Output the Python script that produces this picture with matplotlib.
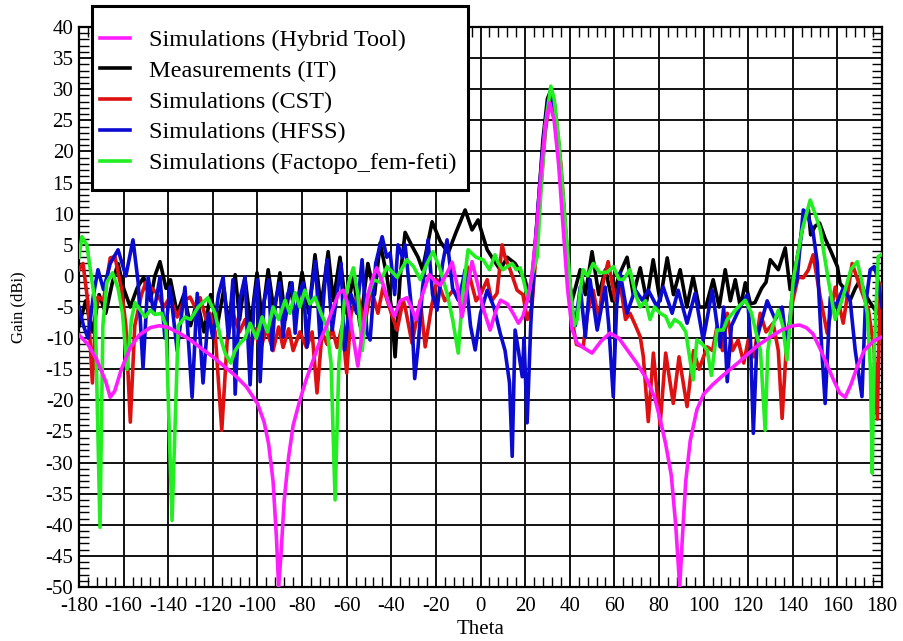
"""Radiation pattern comparison: gain versus theta for five data sources."""

import matplotlib

matplotlib.use("Agg")
import matplotlib.pyplot as plt
from matplotlib.patches import Rectangle
from matplotlib.ticker import MultipleLocator

plt.rcParams["font.family"] = ["Liberation Serif", "DejaVu Serif"]
plt.rcParams["axes.unicode_minus"] = False

# --- Simulations (Hybrid Tool) ---
hybrid_theta = [
    -180, -176, -172, -168, -166, -164, -161, -157, -153, -148, -144, -140,
    -135, -130, -125, -120, -115, -110, -105, -100, -97, -95, -93, -91.5,
    -90.5, -89.5, -88, -86, -84, -81, -78, -75, -72, -69, -66, -63.5, -61.5,
    -59.5, -57, -55, -53, -50.5, -48, -46.5, -44, -41, -38.5, -36, -33, -31,
    -29, -26.5, -23, -20, -18, -15, -12.7, -10.5, -8.3, -6, -3.8, -1.5, 1,
    4.3, 7, 9, 12, 14.6, 17, 19, 21, 23, 25, 27, 29, 31, 33, 35, 37, 39, 41,
    43.3, 46, 50, 54, 58, 62, 66, 70, 74.7, 78, 80.5, 83, 85.5, 87.5, 89.3,
    90.5, 92, 94, 97, 100, 104, 108, 112, 116, 120, 125, 130, 135, 140, 143,
    146, 149, 152, 155, 158, 161, 163.5, 166, 169, 172, 176, 180,
]
hybrid_gain = [
    -9.5, -11, -13.5, -17, -19.5, -18.5, -15, -11.5, -9.5, -8.3, -8, -8.3,
    -9.2, -10.3, -11.7, -13, -14.5, -16, -17.8, -20.5, -23.5, -27, -33, -42,
    -50, -45, -36, -29, -24, -20, -16.5, -13.5, -10.5, -8, -5, -2.8, -2.3,
    -4.5, -10, -14.5, -9, -3, 0, 1.3, -1, -4.5, -6.5, -4, -3.5, -5,
    -7, -3.5, 0.2, -1, -1.5, 0.5, 2.2, -1.5, -6.6, -2, 2.3, -1, -5,
    -8.7, -5.5, -3.9, -4.5, -6, -7.6, -6.5, -3.9, 0, 7, 16, 24, 27.8, 25, 18,
    8, -2, -8.5, -10.8, -11.5, -12.4, -10.5, -9.2, -10, -12, -14, -16.7,
    -19.5, -23, -27, -32, -40, -50, -42, -33, -26.5, -21.5, -19, -17.5,
    -16.2, -15, -13.8, -12.5, -11, -9.8, -8.7, -8, -7.9, -8.3, -9.3, -11.5,
    -14, -16.5, -18.8, -19.5, -17.5, -14.5, -12, -10.5, -9.8,
]

# --- Measurements (IT) ---
meas_theta = [
    -180, -177, -174, -171, -168, -165, -162.5, -160, -157, -154, -151, -148,
    -146, -143.7, -141, -139, -136, -133, -130, -127, -124, -121, -118, -115,
    -113, -110, -108, -105.6, -103, -100.2, -98, -95.2, -92.5, -89.9, -87.5,
    -85.4, -83, -80, -77, -74.2, -71.5, -68.3, -66, -63, -60, -57, -54, -50.5,
    -47.5, -45, -42, -40, -38.3, -36, -33.8, -31, -28, -26, -21.7, -18, -14.5,
    -11, -6.9, -3.8, -1.1, 1, 3, 6, 8.8, 12, 15.5, 18, 20, 22, 24, 26, 28, 30,
    31.5, 33, 35, 37, 39, 41, 42.5, 44.7, 47, 50, 53, 56, 59, 62, 65.7, 68.5,
    71.6, 74.5, 77.4, 80.5, 83.7, 86.5, 89.5, 92.5, 95.3, 98, 101, 104.3, 107,
    109.7, 112, 114.2, 116.5, 118.7, 121, 123, 126, 128, 129.9, 133.5, 136.6,
    138.8, 141, 143, 145, 147, 148, 150, 152, 154.5, 156.8, 160, 161.2, 163,
    165.7, 168, 170.2, 172.5, 174.7, 177.9, 180,
]
meas_gain = [
    -8, -4, -9, -3, -6, -1, 2, -2, -5, -2, -0.2, -4,
    0, 2.3, -2, -0.6, -6, -3, -8, -4, -9, -3, -8, -2,
    -8, 0.2, -7, -0.3, -8, 0.5, -7, 1, -6, 0.5, -7,
    -1.1, -7, 0.6, -6, 3.4, -5, 3.9, -4, 3, -6, 0, -8, 2,
    -3, 5.3, 0, -5, -13, 0, 7, 5, 3, 1, 8.7, 5.5, 3.7,
    7, 10.6, 7.4, 9, 6.5, 4.2, 2.5, 1, 3, 2, 0.5, -0.6, -4, 3, 12, 22, 28.5,
    29.8, 28, 21, 12, 2, -4, -2, 1, -3, 3.9, -3, 1, -4, 0, 3, -3,
    1.3, -4, 2.6, -4, 2.9, -3, 1, -5, -0.1, -5, -5, -0.6, -5,
    1, -4, -0.6, -5, -1.1, -4.5, -4.3, -2, -1, 2.6, 1, 4.5,
    -2.2, 1, 5, 9, 10.6, 6.6, 8, 8.5, 6, 4.2, 1.5, -1.2, -2,
    -3.9, -2, -0.6, -3, -4.3, -6, -3,
]

# --- Simulations (CST) ---
cst_theta = [
    -180, -178.2, -176, -174, -172.5, -171.5, -169, -166, -163.9, -161, -159,
    -157, -155, -152, -150, -148, -145, -142, -139.2, -136, -133, -130.2, -128,
    -125.7, -123, -121.3, -119, -116, -113.5, -111, -108, -105.5, -103, -101,
    -98.8, -96, -93, -90.5, -88.5, -86, -84, -81, -78, -75.5, -73.3, -71,
    -68.8, -66.5, -64.3, -62, -60, -58, -55, -52, -49, -46, -43.7, -40, -37.4,
    -34.7, -33.8, -30.7, -27, -24.8, -22, -19.5, -16, -12.3, -9, -6, -2, 0, 3,
    5, 7.4, 9.7, 11, 13.3, 16.4, 19, 21, 23, 25, 27, 29, 31, 32, 34, 36, 38,
    40, 41.5, 43, 46, 48, 50.5, 53, 55, 57.2, 60.4, 62.6, 65, 67, 69.5, 71.6,
    73, 75.2, 77.5, 80.5, 83, 86.4, 89, 92.6, 95.5, 98, 101.6, 104, 106, 108.5,
    110.6, 113, 115.5, 118, 120, 122.5, 125.4, 128, 131.2, 133.5, 135.2, 137,
    138, 140, 142.4, 144.7, 147, 149.1, 152.3, 155.4, 159, 162.6, 166.6, 170.2,
    173.9, 176.5, 177.9, 179.2, 180,
]
cst_gain = [
    1, 2, -4.3, -17.2, -6, -3.4, -3.9, 2.9, 3.1, -2, -8,
    -23.5, -8, -3, -1, -1.8, -2.8, -5, -3.4, -6.6, -4, -3.4, -5,
    -3.5, -7, -6, -9, -24.8, -10, -6, -9, -7, -11.5, -8.5,
    -12, -8.5, -12, -8.2, -11.5, -8.5, -12, -9, -11.5, -9, -18.8, -9,
    -11, -8.5, -11.5, -8, -15.6, -6, -3, -8, -2, -6, -1.8, -6, -8.7,
    -3.9, -5, -10.8, -3.9, -11.4, -5, -0.6, -4, -2.3, -4, 1.5, -4, -3, -0.6,
    -4, -2.8, 5, 3, 1, -2.3, -3, -7, -5, 4, 14, 23, 28.5, 29, 25, 18, 8,
    -1, -8, -11, -11.4, -6, -2.3, -7, -1, 2.3, -3.9, -1.2, -7, -6, -8, -9.8,
    -13, -23.4, -12.4, -24, -12.4, -20.5, -13, -21, -12, -15, -11.4, -12, -8.2, -12,
    -6, -12, -10.3, -14, -10.3, -13, -6, -9, -7.6, -12, -22.9, -12,
    -8.7, -4, -0.2, -0.3, 1, 3.4, -3.4, -9.2, -1.8, -7.6, 2, -1.8,
    -5.5, -12, -23, -1.2, -4,
]

# --- Simulations (HFSS) ---
hfss_theta = [
    -180, -178, -176, -173.5, -171.5, -169, -166, -162.5, -159, -155.8, -153.5,
    -151.3, -149, -146.5, -143.7, -141.5, -139.2, -136, -132.5, -129.3, -127,
    -124.4, -122, -120, -117.5, -115.4, -113, -111, -110, -108, -105.6, -103.3,
    -101.5, -100, -98.8, -97, -95, -93.5, -92, -90, -88.5, -86.5, -84.5, -83.1,
    -81.5, -79.5, -77.8, -76, -74, -71.9, -70, -68.8, -66.5, -64, -62.5, -61,
    -58, -55.5, -53.1, -50.9, -49.5, -47, -44.1, -42, -40.5, -38.5, -37, -35,
    -33.8, -31, -29.5, -28, -26, -23.5, -21.5, -19.5, -17, -15, -12.5, -10, -8,
    -6.9, -4.5, -2.4, 0, 3, 6, 8.8, 11, 13, 14.2, 15.5, 17, 18.7, 19.5, 20.9,
    22.5, 24, 26, 28, 30, 31.5, 33, 35, 37, 39, 41, 42.5, 44.7, 47, 49.1, 52.3,
    55.9, 57.5, 59.5, 61, 62.6, 65.7, 69.3, 72.5, 75.2, 79.2, 81.9, 85.9, 88.6,
    92.6, 96.2, 99.8, 103.9, 107.4, 109, 110.6, 112.5, 116.4, 119.6, 121, 122.3,
    124, 125.4, 128.5, 132.1, 135.2, 137.5, 139.7, 141.9, 143.3, 144.7, 146.4,
    149.1, 151, 153, 154.5, 156.8, 159, 162.6, 165.7, 168, 171, 172.5, 174.7,
    176.5, 177.9, 180,
]
hfss_gain = [
    -5, -8, -10, -3, 1, -2.2, 2, 4.2, 0, 5.8, -1,
    -14.8, -0.2, -6, -0.2, -10, -1.8, -12, -1.8, -19.5, -2.8,
    -17.2, -6, -10, -3, -0.2, -10, -0.6, -19, -4, -0.2, -17.5,
    -4, -0.6, -17, -4, -0.6, -11.9, -4, -1.1, -9.8, -3, -1.1, -9.2,
    -3, -1.1, -11.4, -3, 2.3, -10.8, -2, 2.6, -8.7, -2, 2, -11.9,
    -3, -6, 2.6, -9.2, -10.3, 2, 6.3, 3, 3.7, -3, 5, 3,
    5, -5, -16.5, -11.4, -2, 5.8, -3, -5.5, 2, 5.8, -2, -3.9, -1,
    1, -8, -11.9, -6, -2.3, -5, -9.2, -12, -17.2, -29, -8.7, -12, -16.2, -10, -23.6,
    -8, 2, 12, 21, 27.5, 29.5, 27, 21, 12, 3, -5, -8, -1.8, -9.8, -0.6, -8.7,
    -1.8, -8, -19.4, -5, 0.5, -6, -2.2, -3.9, -2.3, -5, -1.8, -6, -2.3,
    -7.6, -2.8, -10.3, -2.3, -11.4, -5, -17, -8, -5, -3, -10, -25.3,
    -10, -8, -4, -7, -5, -12, -3, -0.6, 5, 10.6, 10,
    7, 2, -12, -20.5, -3.4, -5, -2, -3.9, -12, -19.4, -5, 1,
    1.5, -0.2, -5,
]

# --- Simulations (Factopo_fem-feti) ---
feti_theta = [
    -180, -178.7, -176.5, -174.5, -172.8, -170.6, -169.3, -167.5, -165, -162.5,
    -160.5, -158.5, -156.5, -154.9, -152.5, -150.4, -148, -145.9, -143, -141,
    -138.3, -135.5, -132.5, -130, -126.6, -122.2, -119, -116.5, -114.5, -112,
    -110, -107.8, -105.5, -103.3, -100.5, -97.9, -95.5, -93, -90.5, -87.6,
    -85.5, -83.1, -81, -78.7, -76.5, -74.2, -71.5, -69, -67, -65.2, -63.5, -61,
    -59, -57, -55, -53, -51, -48, -45, -41.9, -37.4, -33, -30, -27, -24, -21.3,
    -18, -15, -12.5, -10, -8, -5.6, -2, 1.2, 4, 6.5, 8, 10.1, 12, 14.2, 16,
    17.8, 19.5, 21.3, 23, 25.4, 27, 29, 31.5, 33, 35, 37, 39, 40.5, 42, 43.3,
    44.5, 46, 48, 50.5, 53.5, 56.8, 59.6, 62, 64, 67, 69.5, 71.6, 74, 76, 78,
    80.5, 83, 85, 87, 89.5, 92, 95.3, 97, 99.5, 101.6, 103.5, 106, 108.8, 110.6,
    113, 115.5, 118.7, 121.5, 124, 125.5, 127.6, 128.8, 129.9, 133.5, 135.5,
    137.4, 140.2, 144.2, 147.8, 150, 152.3, 155.9, 159, 161, 163.5, 166, 168.9,
    171, 173.4, 174.8, 175.6, 176.5, 178.3, 180,
]
feti_gain = [
    3, 6.3, 5, 0, -4.3, -40.4, -8, -1, 0.5, -2,
    -6, -15, -7, -4.3, -5.5, -6.6, -5.5, -6.2, -6, -8,
    -39.3, -8, -6.6, -7, -5, -3.5, -6, -10, -12.4, -14,
    -12, -10.8, -10, -7.6, -10, -6.6, -9, -5, -7, -3.9,
    -6, -2.7, -5, -2.3, -4.5, -3.4, -6, -8, -14, -36, -14, -4,
    -1, 1.3, -3, -12, -4, -0.6, -1, 1.5, -0.2, 2.6, 1.5, -0.6, 2, 3.9,
    1, -2.8, -7, -12.4, -3, 4.2, 3, 2.6, 1, 3.4, 2, 1, 1.5, 2, 1,
    1.3, -1, -3.9, 0, 3.1, 13, 24, 30.5, 28.5, 22, 13, 4, -3, -8, -7,
    -3, 1, 0, 2, 0.5, 0.6, 1.5, -0.5, -0.6, 1, -3, -5, -4, -7, -5,
    -6, -6.5, -8.2, -7, -7.6, -9, -16.7, -10.3, -11, -11.9, -16, -8.7, -8.7, -7,
    -6, -5, -3.9, -6, -9.8, -12, -24.8, -12, -9.2, -5.5, -8,
    -13.5, -0.6, 7.4, 12.2, 10, 7.4, -0.6, -7, -5, -2.2, 1, 2.3,
    -1, -6, -15, -31.7, -12, 3.1, 3.5,
]

fig, ax = plt.subplots(figsize=(9.04, 6.41), dpi=100)
ax.set_position([0.0874, 0.0842, 0.8883, 0.8736])

# Draw order keeps the hybrid curve on top, like the original figure.
series = [
    (hybrid_theta, hybrid_gain, "#ff1cff", "Simulations (Hybrid Tool)", 6),
    (meas_theta, meas_gain, "#000000", "Measurements (IT)", 2),
    (cst_theta, cst_gain, "#dd1111", "Simulations (CST)", 3),
    (hfss_theta, hfss_gain, "#0a0ad0", "Simulations (HFSS)", 4),
    (feti_theta, feti_gain, "#22ee22", "Simulations (Factopo_fem-feti)", 5),
]
for theta, gain, color, label, z in series:
    ax.plot(theta, gain, color=color, linewidth=2.6, label=label, zorder=z)

ax.set_xlim(-180, 180)
ax.set_ylim(-50, 40)
ax.xaxis.set_major_locator(MultipleLocator(20))
ax.yaxis.set_major_locator(MultipleLocator(5))
ax.xaxis.set_minor_locator(MultipleLocator(4))
ax.yaxis.set_minor_locator(MultipleLocator(1))
ax.grid(True, which="major", color="#111111", linewidth=1.4)
ax.tick_params(which="both", direction="in", top=True, right=True,
               labelsize=15)
ax.tick_params(which="major", length=0, pad=7)
ax.tick_params(which="minor", length=7, width=1.0)
ax.tick_params(axis="y", which="major", pad=4)
for spine in ax.spines.values():
    spine.set_linewidth(1.6)

ax.set_xlabel("Theta", fontsize=15, labelpad=3)
ax.set_ylabel("Gain (dBi)", fontsize=12, labelpad=14)

# Legend box is drawn separately so its padding can match the original.
fig.patches.append(Rectangle(
    (92 / 904, 1 - 190 / 641), (468 - 92) / 904, 184 / 641,
    transform=fig.transFigure, facecolor="white", edgecolor="black",
    linewidth=2.2, zorder=9,
))
legend = fig.legend(
    loc="upper left",
    bbox_to_anchor=(100 / 904, 1 - 29 / 641),
    fontsize=17.5,
    frameon=False,
    handlelength=1.25,
    handletextpad=0.75,
    labelspacing=0.36,
    borderpad=0,
    borderaxespad=0,
)
legend.set_zorder(10)

fig.savefig("out.png", dpi=100)
